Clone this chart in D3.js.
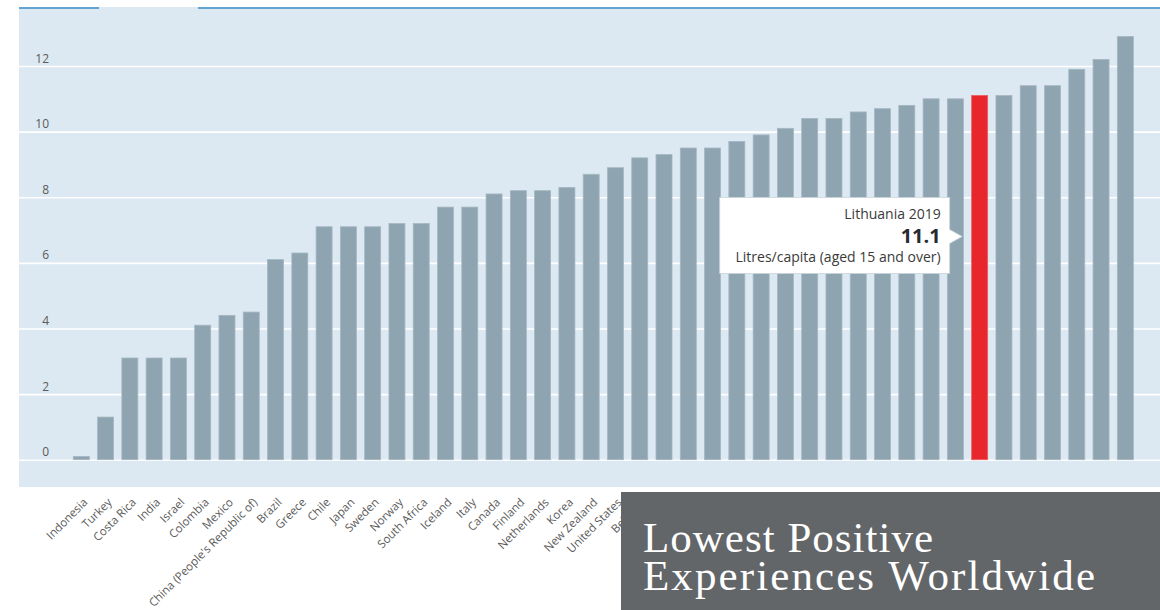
<!DOCTYPE html>
<html>
<head>
<meta charset="utf-8">
<script src="https://cdn.jsdelivr.net/npm/d3@7"></script>
<style>
  html, body { margin: 0; padding: 0; background: #ffffff; }
  svg { display: block; }
  text { font-family: "Open Sans", "Noto Sans", sans-serif; }
</style>
</head>
<body>
<svg id="chart" width="1160" height="610"></svg>
<script>
// Alcohol consumption, litres per capita (aged 15 and over), 2019
const countries = [
  "Indonesia", "Turkey", "Costa Rica", "India", "Israel", "Colombia", "Mexico",
  "China (People's Republic of)", "Brazil", "Greece", "Chile", "Japan", "Sweden",
  "Norway", "South Africa", "Iceland", "Italy", "Canada", "Finland", "Netherlands",
  "Korea", "New Zealand", "United States", "Belgium", "Switzerland", "Denmark",
  "Australia", "United Kingdom", "Slovak Republic", "Russia", "Spain", "Estonia",
  "Slovenia", "Ireland", "Portugal", "Germany", "Poland", "Lithuania", "Luxembourg",
  "Hungary", "France", "Czech Republic", "Austria", "Latvia"
];
const litres = [
  0.1, 1.3, 3.1, 3.1, 3.1, 4.1, 4.4,
  4.5, 6.1, 6.3, 7.1, 7.1, 7.1,
  7.2, 7.2, 7.7, 7.7, 8.1, 8.2, 8.2,
  8.3, 8.7, 8.9, 9.2, 9.3, 9.5,
  9.5, 9.7, 9.9, 10.1, 10.4, 10.4,
  10.6, 10.7, 10.8, 11.0, 11.0, 11.1, 11.1,
  11.4, 11.4, 11.9, 12.2, 12.9
];
const yTicks = [0, 2, 4, 6, 8, 10, 12];
const highlighted = "Lithuania";
const highlightYear = "2019";
const unitLabel = "Litres/capita (aged 15 and over)";
const captionLines = ["Lowest Positive", "Experiences Worldwide"];

const data = countries.map((c, i) => ({ country: c, value: litres[i] }));

const W = 1160, H = 610;
const plot = { left: 19, top: 7, right: 1160, bottom: 487 };

const svg = d3.select("#chart");

const x = d3.scaleBand()
  .domain(countries)
  .range([69.16, 1137.48])
  .paddingInner(0.341)
  .paddingOuter(0.1705);

const y = d3.scaleLinear()
  .domain([0, 12])
  .range([459.7, 66]);

// plot background
svg.append("rect")
  .attr("x", plot.left).attr("y", plot.top)
  .attr("width", plot.right - plot.left).attr("height", plot.bottom - plot.top)
  .attr("fill", "#dde9f2");

// top rule with a tab gap
svg.append("line")
  .attr("x1", plot.left).attr("x2", 99).attr("y1", 8).attr("y2", 8)
  .attr("stroke", "#3b8bc6").attr("stroke-width", 1.6);
svg.append("line")
  .attr("x1", 198).attr("x2", plot.right).attr("y1", 8).attr("y2", 8)
  .attr("stroke", "#3b8bc6").attr("stroke-width", 1.6);

// gridlines + y labels
const yAxis = svg.append("g")
  .attr("transform", `translate(${plot.left},0)`)
  .call(d3.axisLeft(y).tickValues(yTicks).tickSize(-(plot.right - plot.left)).tickFormat(d3.format("d")));
yAxis.select(".domain").remove();
yAxis.selectAll(".tick line").attr("stroke", "#ffffff").attr("stroke-width", 1.6);
yAxis.selectAll(".tick text")
  .attr("x", 30).attr("dy", -4)
  .attr("text-anchor", "end")
  .attr("fill", "#5a5a5a")
  .style("font-size", "12px");

// bars
svg.append("g")
  .selectAll("rect")
  .data(data)
  .join("rect")
  .attr("x", d => x(d.country))
  .attr("y", d => y(d.value))
  .attr("width", x.bandwidth())
  .attr("height", d => y(0) - y(d.value))
  .attr("fill", d => d.country === highlighted ? "#e8272d" : "#8fa4b1")
  .attr("stroke", d => d.country === highlighted ? "#ee5a5e" : "#a6b7c2")
  .attr("stroke-width", 0.8);

// category labels
const xAxis = svg.append("g")
  .attr("transform", "translate(0,500)")
  .call(d3.axisBottom(x).tickSize(0));
xAxis.select(".domain").remove();
xAxis.selectAll(".tick text")
  .attr("x", 0).attr("y", 0).attr("dy", 0)
  .attr("transform", "translate(7,3) rotate(-45)")
  .attr("text-anchor", "end")
  .attr("fill", "#5a5a5a")
  .style("font-size", "11.5px");

// tooltip for the highlighted country
const hi = data.find(d => d.country === highlighted);
const tipX = x(hi.country) - 9.5;
const boxR = tipX - 12.5, boxL = boxR - 230, boxT = 197.5, boxB = 273.5;
const tipY = 236.5;
const tip = svg.append("g");
tip.append("path")
  .attr("d", `M${boxL},${boxT}H${boxR}V${tipY - 7}L${tipX},${tipY}L${boxR},${tipY + 7}V${boxB}H${boxL}Z`)
  .attr("fill", "#ffffff")
  .attr("stroke", "#c9d3da").attr("stroke-width", 0.8);
tip.append("text")
  .attr("x", boxR - 9).attr("y", 218.5)
  .attr("text-anchor", "end").attr("fill", "#3a3a3a")
  .style("font-size", "14px")
  .text(`${hi.country} ${highlightYear}`);
tip.append("text")
  .attr("x", boxR - 9).attr("y", 242.5)
  .attr("text-anchor", "end").attr("fill", "#262b31")
  .style("font-size", "20px").style("font-weight", "bold")
  .text(d3.format(".1f")(hi.value));
tip.append("text")
  .attr("x", boxR - 9).attr("y", 262)
  .attr("text-anchor", "end").attr("fill", "#3a3a3a")
  .style("font-size", "14px")
  .text(unitLabel);

// caption panel
svg.append("rect")
  .attr("x", 621).attr("y", 492)
  .attr("width", W - 621).attr("height", H - 492)
  .attr("fill", "#636669");
const captionWidths = [290, 452];
svg.append("g")
  .selectAll("text")
  .data(captionLines)
  .join("text")
  .attr("x", 643)
  .attr("y", (d, i) => 551.5 + i * 38.5)
  .attr("fill", "#ffffff")
  .attr("textLength", (d, i) => captionWidths[i])
  .attr("lengthAdjust", "spacing")
  .style("font-family", "'Liberation Serif', 'DejaVu Serif', serif")
  .style("font-size", "43px")
  .text(d => d);
</script>
</body>
</html>
